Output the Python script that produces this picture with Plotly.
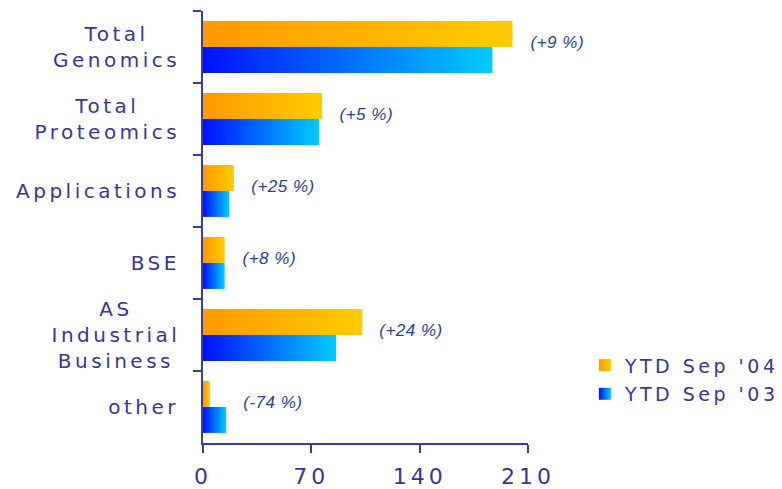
import plotly.graph_objects as go

# ---- data ----
categories = ["Total Genomics", "Total Proteomics", "Applications", "BSE",
              "AS Industrial Business", "other"]
category_labels = ["Total<br>Genomics", "Total<br>Proteomics", "Applications", "BSE",
                   "AS<br>Industrial<br>Business", "other"]
ytd_sep_04 = [200, 77, 20, 14, 103, 4.5]
ytd_sep_03 = [187, 75, 17, 14, 86, 15]
change_labels = ["(+9 %)", "(+5 %)", "(+25 %)", "(+8 %)", "(+24 %)", "(-74 %)"]
x_ticks = [0, 70, 140, 210]
series_names = ["YTD Sep '04", "YTD Sep '03"]

TEXT = "#36369a"
PCT = "#2a3c9e"
AXIS = "#3c3c9c"
FONT = "DejaVu Sans"
CAT_LS = 3.5   # letter spacing for category labels (px)
TICK_LS = 4    # letter spacing for x tick labels (px)
LEG_LS = 3.5   # letter spacing for legend text (px)

fig = go.Figure()
fig.add_trace(go.Bar(y=categories, x=ytd_sep_04, name=series_names[0], orientation="h",
                     marker=dict(color="#FFB300", line=dict(width=0)), legendgroup="a"))
fig.add_trace(go.Bar(y=categories, x=ytd_sep_03, name=series_names[1], orientation="h",
                     marker=dict(color="#0080FF", line=dict(width=0)), legendgroup="b"))

annotations = []
for cat, lab in zip(categories, category_labels):
    longest = max(len(s) for s in lab.split("<br>"))
    annotations.append(dict(
        x=0, xref="paper", y=cat, yref="y", text=lab, showarrow=False,
        xanchor="right", yanchor="middle", align="center",
        xshift=-21 - longest * CAT_LS / 2,
        font=dict(family=FONT, size=20, color=TEXT)))
for cat, a, b, lab in zip(categories, ytd_sep_04, ytd_sep_03, change_labels):
    annotations.append(dict(
        x=max(a, b), xref="x", y=cat, yref="y", text=lab, showarrow=False,
        xanchor="left", yanchor="middle", xshift=17, yshift=5,
        font=dict(family="Liberation Sans", size=17, color=PCT, style="italic")))

fig.update_layout(
    width=782, height=489, autosize=False,
    margin=dict(l=203, r=254, t=11, b=46, pad=0),
    plot_bgcolor="white", paper_bgcolor="white",
    barmode="group", bargap=0.28, bargroupgap=0,
    showlegend=True,
    legend=dict(x=1.175, xanchor="left", y=0.224, yanchor="top",
                font=dict(family=FONT, size=19, color=TEXT),
                traceorder="grouped", tracegroupgap=1,
                bgcolor="rgba(0,0,0,0)"),
    xaxis=dict(range=[0, 210], tickvals=x_ticks, ticks="outside", ticklen=8, tickwidth=2,
               tickcolor=AXIS, showline=True, linecolor=AXIS, linewidth=2,
               showgrid=False, zeroline=False, ticklabelstandoff=5, automargin=False,
               tickfont=dict(family=FONT, size=22, color=TEXT)),
    yaxis=dict(categoryorder="array", categoryarray=categories, autorange="reversed",
               tickson="boundaries", ticks="outside", ticklen=8, tickwidth=2,
               tickcolor=AXIS, showline=True, linecolor=AXIS, linewidth=2,
               showticklabels=False, showgrid=False, zeroline=False, automargin=False),
    annotations=annotations,
)

post_script = """
document.body.style.margin = '0';
document.body.style.overflow = 'hidden';
var gd = document.getElementById('{plot_id}');
function applyStyle(){
  var svg = gd.querySelector('svg.main-svg');
  if(!svg) return;
  var ns = 'http://www.w3.org/2000/svg';
  var defs = svg.querySelector('defs');
  if(!defs){ defs = document.createElementNS(ns,'defs'); svg.insertBefore(defs, svg.firstChild); }
  function addGrad(id, c1, c2){
    if(document.getElementById(id)) return;
    var g = document.createElementNS(ns,'linearGradient');
    g.setAttribute('id', id);
    g.setAttribute('x1','0'); g.setAttribute('y1','0');
    g.setAttribute('x2','1'); g.setAttribute('y2','0');
    [[0,c1],[1,c2]].forEach(function(s){
      var st = document.createElementNS(ns,'stop');
      st.setAttribute('offset', s[0]); st.setAttribute('stop-color', s[1]);
      g.appendChild(st);
    });
    defs.appendChild(g);
  }
  addGrad('grad04', '#FF9900', '#FFCC00');
  addGrad('grad03', '#0010FF', '#00CCFF');
  var ids = ['grad04', 'grad03'];
  gd.querySelectorAll('.barlayer .trace').forEach(function(t, i){
    t.querySelectorAll('path').forEach(function(p){ p.style.fill = 'url(#' + ids[i] + ')'; });
  });
  gd.querySelectorAll('.legend .traces').forEach(function(t, i){
    t.querySelectorAll('.legendpoints path').forEach(function(p){ p.style.fill = 'url(#' + ids[i] + ')'; });
  });
  gd.querySelectorAll('.legend, .legend .scrollbox').forEach(function(el){ el.removeAttribute('clip-path'); });
  gd.querySelectorAll('.legend [clip-path]').forEach(function(el){ el.removeAttribute('clip-path'); });
  gd.querySelectorAll('.annotation-text').forEach(function(el){
    el.style.letterSpacing = (el.style.fontStyle === 'italic') ? '0.5px' : '""" + str(CAT_LS) + """px';
  });
  gd.querySelectorAll('.xtick text').forEach(function(el){ el.style.letterSpacing = '""" + str(TICK_LS) + """px'; });
  gd.querySelectorAll('.legendtext').forEach(function(el){ el.style.letterSpacing = '""" + str(LEG_LS) + """px'; });
}
applyStyle();
setTimeout(applyStyle, 0);
setTimeout(applyStyle, 200);
if(gd.on) gd.on('plotly_afterplot', applyStyle);
"""

fig.write_html("out.html", post_script=post_script,
               config={"displayModeBar": False, "staticPlot": True})
